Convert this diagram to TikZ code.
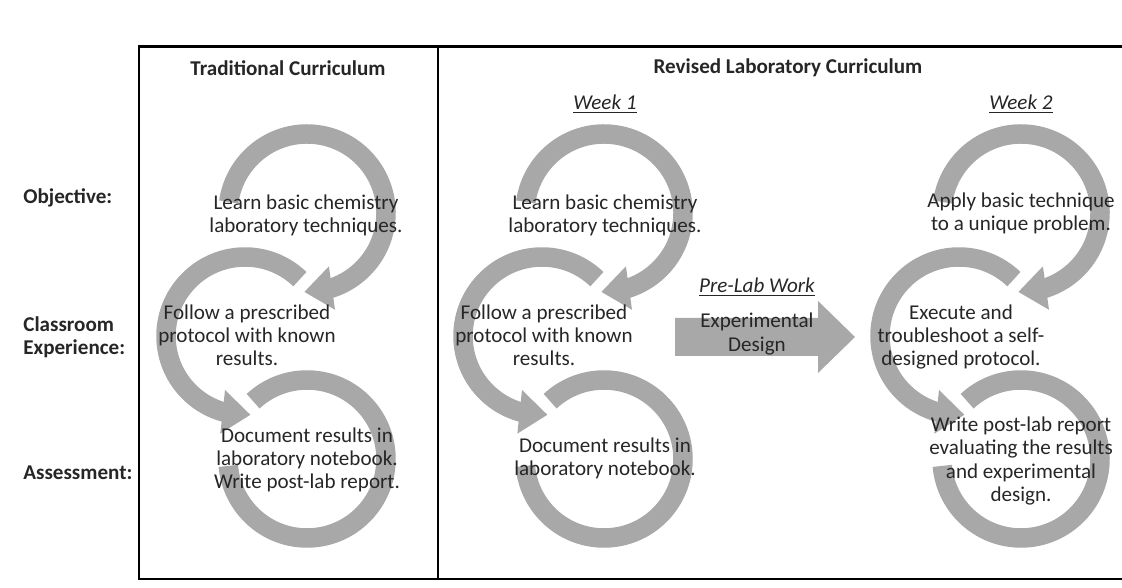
\documentclass[tikz,border=0pt]{standalone}
\usepackage{fontspec}
\setmainfont{Carlito}
\usetikzlibrary{arrows.meta,bending}
\definecolor{ringgray}{RGB}{168,168,168}
\definecolor{ink}{RGB}{38,38,38}
\begin{document}
\begin{tikzpicture}[x=0.02cm,y=0.02cm,
  ring/.style={draw=ringgray,line width=0.39cm},
  ringtip/.style={ring,-{Triangle[width=0.84cm,length=0.56cm]}},
  txt/.style={text=ink,align=center,inner sep=0pt,font=\fontsize{12}{13.2}\selectfont},
  head/.style={txt,font=\fontsize{12}{13.2}\selectfont\bfseries},
  rowlbl/.style={head,anchor=west,align=left},
  frame/.style={draw=black,line width=1.7pt}]
\useasboundingbox (0,0) rectangle (1122,588);
% frame and column divider
\draw[frame] (1122,541) -- (139,541) -- (139,9) -- (1122,9);
\draw[frame] (438,541) -- (438,9);
% circular arrows, one set per column
\foreach \cx in {307,604,1021}{
  \draw[ringtip] (\cx,375) ++(172:79) arc[start angle=172,end angle=-92,radius=79];
  \draw[ringtip] (\cx-62,252) ++(46:79) arc[start angle=46,end angle=274,radius=79];
  \draw[ring] (\cx,129) ++(133:79) arc[start angle=133,end angle=-175,radius=79];
}
% pre-lab arrow
\fill[ringgray] (675,232) -- (818,232) -- (818,215) -- (855,251) -- (818,287) -- (818,270) -- (675,270) -- cycle;
% headings
\node[head] (tradtitle) at (288,520) {Traditional Curriculum};
\node[head] (revtitle) at (788,520) {Revised Laboratory Curriculum};
\node[txt] (week1) at (605,484) {\underline{\textit{Week 1}}};
\node[txt] (week2) at (1021,484) {\underline{\textit{Week 2}}};
\node[rowlbl] (objective) at (23,390) {Objective:};
\node[rowlbl] (experience) at (23,251) {Classroom\\Experience:};
\node[rowlbl] (assessment) at (23,115) {Assessment:};
% traditional
\node[txt] (tradobj) at (306,373) {Learn basic chemistry\\laboratory techniques.};
\node[txt] (tradexp) at (247,253) {Follow a prescribed\\protocol with known\\results.};
\node[txt] (tradass) at (307,128) {Document results in\\laboratory notebook.\\Write post-lab report.};
% week 1
\node[txt] (oneobj) at (605,373) {Learn basic chemistry\\laboratory techniques.};
\node[txt] (oneexp) at (544,253) {Follow a prescribed\\protocol with known\\results.};
\node[txt] (oneass) at (605,130) {Document results in\\laboratory notebook.};
% pre-lab work
\node[txt] (prelab) at (757,301) {\underline{\textit{Pre-Lab Work}}};
\node[txt] (design) at (757,254) {Experimental\\Design};
% week 2
\node[txt] (twoobj) at (1021,375) {Apply basic technique\\to a unique problem.};
\node[txt] (twoexp) at (961,251) {Execute and\\troubleshoot a self-\\designed protocol.};
\node[txt] (twoass) at (1021,127) {Write post-lab report\\evaluating the results\\and experimental\\design.};
\end{tikzpicture}
\end{document}
